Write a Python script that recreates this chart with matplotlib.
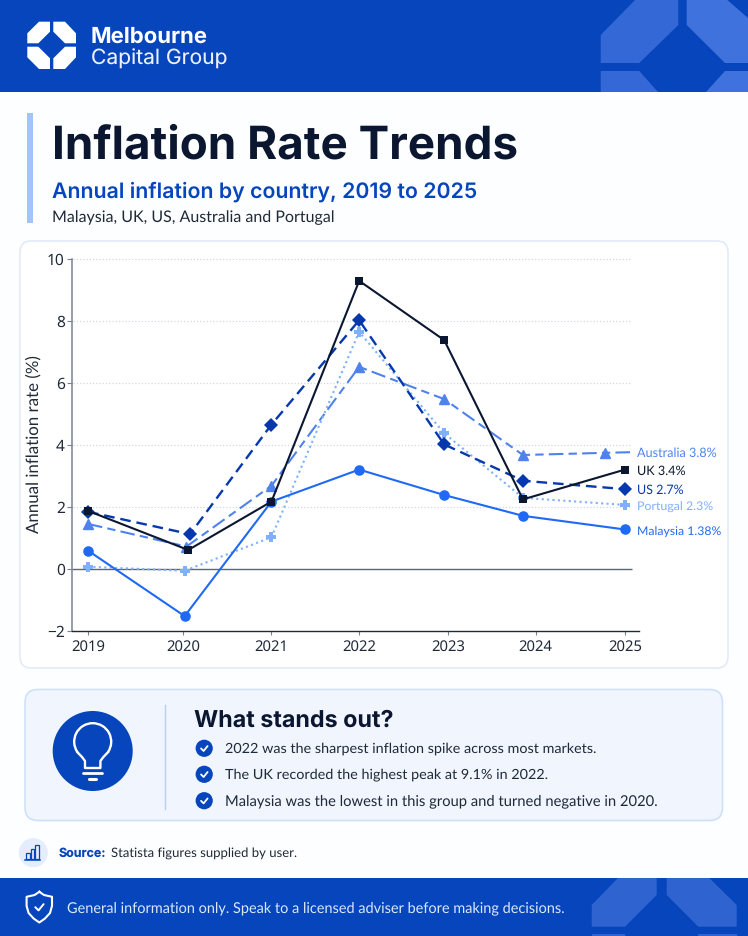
import matplotlib
matplotlib.use("Agg")
import matplotlib.pyplot as plt
from matplotlib.patches import FancyBboxPatch, Polygon, Circle, Rectangle, Arc

plt.rcParams['text.hinting'] = 'no_hinting'
plt.rcParams['text.hinting_factor'] = 8

# ---------- data ----------
tick_labels = ['2019', '2020', '2021', '2022', '2023', '2024', '2025']
tick_positions = [2019.0, 2020.06, 2021.05, 2022.03, 2023.02, 2024.0, 2025.0]
y_ticks = [-2, 0, 2, 4, 6, 8, 10]

uk_x = [2019.0, 2020.12, 2021.05, 2022.03, 2022.98, 2023.86, 2025.0]
uk_y = [1.87, 0.61, 2.17, 9.28, 7.37, 2.24, 3.20]
us_x = [2019.0, 2020.14, 2021.05, 2022.03, 2022.98, 2023.86, 2025.0]
us_y = [1.84, 1.12, 4.65, 8.01, 4.01, 2.84, 2.57]
au_x = [2019.0, 2020.10, 2021.05, 2022.03, 2022.98, 2023.86, 2024.78, 2025.06]
au_y = [1.45, 0.72, 2.68, 6.51, 5.47, 3.67, 3.74, 3.76]
pt_x = [2019.0, 2020.08, 2021.05, 2022.03, 2022.98, 2023.86, 2025.0]
pt_y = [0.07, -0.06, 1.02, 7.64, 4.37, 2.29, 2.06]
my_x = [2019.0, 2020.08, 2021.05, 2022.03, 2022.98, 2023.86, 2025.0]
my_y = [0.59, -1.52, 2.17, 3.20, 2.38, 1.71, 1.27]

series_labels = ['Australia 3.8%', 'UK 3.4%', 'US 2.7%', 'Portugal 2.3%', 'Malaysia 1.38%']
bullets = ['2022 was the sharpest inflation spike across most markets.',
           'The UK recorded the highest peak at 9.1% in 2022.',
           'Malaysia was the lowest in this group and turned negative in 2020.']

# ---------- colours ----------
BLUE = '#0645BC'
NAVY = '#0B1730'
C_UK, C_US, C_AU, C_PT, C_MY = '#0B1730', '#0638AD', '#4F82EE', '#7FB0FB', '#1F69F5'
SANS = ['Noto Sans', 'DejaVu Sans']
BODY = ['Lato', 'Noto Sans', 'DejaVu Sans']
HEAD = ['Inter', 'Noto Sans', 'DejaVu Sans']

W, H = 748, 936
fig = plt.figure(figsize=(W / 100, H / 100), dpi=100, facecolor='#FDFEFF')
bg = fig.add_axes([0, 0, 1, 1], zorder=0)
bg.set_xlim(0, W); bg.set_ylim(H, 0); bg.axis('off')
renderer = fig.canvas.get_renderer()


def poly(pts, color, z=2):
    bg.add_patch(Polygon(pts, closed=True, fc=color, ec='none', zorder=z))


def txt(x, y, s, size, color, width=None, weight='normal', family=BODY, ax=bg, z=6):
    """Text with its baseline at y; when width is given the size is tuned to that pixel width."""
    t = ax.text(x, y, s, fontsize=size, color=color, fontweight=weight, family=family,
                ha='left', va='baseline', zorder=z)
    if width is not None:
        for _ in range(3):
            t.set_fontsize(t.get_fontsize() * width / t.get_window_extent(renderer).width)
    return t


def check(cx, cy, s, color='white', lw=1.5):
    bg.plot([cx - .42 * s, cx - .08 * s, cx + .45 * s], [cy + .02 * s, cy + .36 * s, cy - .3 * s],
            color=color, lw=lw, solid_capstyle='round', solid_joinstyle='round', zorder=7)


# ---------- header ----------
bg.add_patch(Rectangle((0, 0), W, 92, fc=BLUE, ec='none', zorder=1))
poly([(635, 0), (678.3, 0), (678.3, 25), (639.3, 63), (600.7, 63), (600.7, 35)], '#3468D6')
poly([(686.7, 0), (727.3, 0), (748, 18), (748, 63), (725, 63), (686.7, 25)], '#3F72DC')
poly([(600.7, 71), (639.3, 71), (658, 92), (600.7, 92)], '#3468D6')
poly([(725, 71), (748, 71), (748, 92), (706, 92)], '#3F72DC')
for pts in ([(39, 21.7), (50, 21.7), (50, 31.7), (38.3, 43.3), (27.3, 43.3), (27.3, 33.3)],
            [(53.3, 21.7), (65, 21.7), (76, 33.3), (76, 43.3), (65, 43.3), (53.3, 31.7)],
            [(27.3, 46.7), (38.3, 46.7), (50, 58.3), (50, 69), (39, 69), (27.3, 57.3)],
            [(65, 46.7), (76, 46.7), (76, 57.3), (65, 69), (53.3, 69), (53.3, 58.3)]):
    poly(pts, 'white', 3)
txt(91, 43, 'Melbourne', 15, 'white', width=117, weight='bold', family=HEAD)
txt(91.5, 65, 'Capital Group', 15, '#EAF1FF', width=136.5, family=HEAD)

# ---------- title block ----------
bg.add_patch(Rectangle((26.7, 113), 6.3, 110, fc='#A3C4FB', ec='none', zorder=2))
txt(52, 158.5, 'Inflation Rate Trends', 32, NAVY, width=466, weight='bold', family=HEAD)
txt(52, 198, 'Annual inflation by country, 2019 to 2025', 15, BLUE, width=425, weight='semibold', family=HEAD)
txt(52, 222.5, 'Malaysia, UK, US, Australia and Portugal', 10.5, '#1F2937', width=284)

# ---------- chart card ----------
bg.add_patch(FancyBboxPatch((20, 241), 708, 427, boxstyle='round,pad=0,rounding_size=11',
                            fc='#FFFFFF', ec='#E3EBF8', lw=1.2, zorder=2))

AX_L, AX_R, AX_T, AX_B = 71.7, 639.0, 258.5, 631.0
PX_YEAR = 89.5
ax = fig.add_axes([AX_L / W, 1 - AX_B / H, (AX_R - AX_L) / W, (AX_B - AX_T) / H], zorder=3)
ax.patch.set_alpha(0)
x0 = 2019 - (88 - AX_L) / PX_YEAR
x1 = 2019 + (AX_R - 88) / PX_YEAR
line_end = 2019 + (632 - 88) / PX_YEAR
ax.set_xlim(x0, x1); ax.set_ylim(-2, 10)
ax.hlines([2, 4, 6, 8, 10], x0 + 0.02, line_end, color='#D3D8E0', lw=0.9, linestyles=(0, (1, 1.6)), zorder=1, clip_on=False)
ax.hlines([0], x0, line_end, color='#5D6675', lw=1.0, zorder=1)

ax.plot(au_x, au_y, color=C_AU, lw=1.5, ls=(0, (7, 2.5, 4, 2.5)), marker='^', ms=7.4, markevery=list(range(7)), zorder=3)
ax.plot(pt_x, pt_y, color=C_PT, lw=1.5, ls=(0, (1, 1.6)), marker='P', ms=7.5, mew=0, zorder=4)
ax.plot(my_x, my_y, color=C_MY, lw=1.5, marker='o', ms=7.6, mew=0, zorder=4)
ax.plot(us_x, us_y, color=C_US, lw=1.7, ls=(0, (4.5, 2.5)), marker='D', ms=6.8, mew=0, zorder=5)
ax.plot(uk_x, uk_y, color=C_UK, lw=1.5, marker='s', ms=6.2, mew=0, zorder=6)

for sp in ('top', 'right'):
    ax.spines[sp].set_visible(False)
ax.spines['left'].set_color('#7A8291'); ax.spines['left'].set_linewidth(1.1)
ax.spines['bottom'].set_color('#1F2937'); ax.spines['bottom'].set_linewidth(1.0)
ax.set_xticks(tick_positions); ax.set_xticklabels(tick_labels)
ax.set_yticks(y_ticks)
ax.tick_params(axis='x', length=3, width=0.8, color='#7A8291', labelsize=10.7, labelcolor='#1F2937', pad=3)
ax.tick_params(axis='y', length=3.5, width=0.8, color='#7A8291', labelsize=11.2, labelcolor='#1F2937', pad=1.5)
for lab in ax.get_xticklabels() + ax.get_yticklabels():
    lab.set_family(SANS)
bg.text(33.3, 444.5, 'Annual inflation rate (%)', fontsize=12.2, color='#1F2937', family=BODY,
        rotation=90, ha='center', va='center', zorder=6)

label_pos = [(637.3, 457.3, 80, C_AU), (637.3, 475, 48.5, C_UK), (637.3, 494, 46.5, '#0638AD'),
             (637.3, 511, 76.5, C_PT), (637.3, 534.5, 85, C_MY)]
for s, (lx, ly, lw_, c) in zip(series_labels, label_pos):
    txt(lx, ly, s, 9, c, width=lw_, z=8)

# ---------- insight box ----------
bg.add_patch(FancyBboxPatch((25, 689.5), 697.5, 131, boxstyle='round,pad=0,rounding_size=13',
                            fc='#F0F5FE', ec='#CFE0FA', lw=1.2, zorder=2))
bg.plot([164.7, 164.7], [705, 809], color='#B8CFF5', lw=1.0, zorder=3)
bg.add_patch(Circle((92.7, 751), 40, fc=BLUE, ec='none', zorder=3))
# light bulb
bg.add_patch(Arc((92.7, 741.7), 37, 37, theta1=145, theta2=395, ec='white', lw=1.7, zorder=4))
bg.plot([77.5, 82, 85, 85, 100.4, 100.4, 103.4, 107.9],
        [752.3, 757, 761, 768, 768, 761, 757, 752.3], color='white', lw=1.7, solid_joinstyle='round', zorder=4)
bg.plot([83.3, 102.3], [772.5, 772.5], color='white', lw=2.0, solid_capstyle='round', zorder=4)
bg.plot([89.3, 96.3], [779, 779], color='white', lw=2.2, solid_capstyle='round', zorder=4)

txt(194, 727, 'What stands out?', 17, NAVY, width=199.5, weight='bold', family=HEAD)
for yc, s, wd in zip([748.3, 774.3, 800.7], bullets, [373.6, 323.5, 430.8]):
    bg.add_patch(Circle((204.2, yc), 8.6, fc=BLUE, ec='none', zorder=4))
    check(204.2, yc, 7.5, lw=1.3)
    txt(225.2, yc + 4.6, s, 10.3, '#1F2937', width=wd)

# ---------- source ----------
bg.add_patch(Circle((33.3, 852.7), 14.5, fc='#E3EDFC', ec='none', zorder=3))
for bx, bh in zip([26.5, 31, 35.5], [6, 10, 14]):
    bg.add_patch(Rectangle((bx, 859 - bh), 3.2, bh, fc='none', ec=BLUE, lw=0.9, zorder=4))
bg.plot([25.5, 40.5], [859.5, 859.5], color=BLUE, lw=1.1, zorder=4)
txt(58.5, 857, 'Source:', 10, BLUE, width=47.5, weight='bold', family=HEAD)
txt(111, 857, 'Statista figures supplied by user.', 9.3, '#1F2937', width=186)

# ---------- footer ----------
bg.add_patch(Rectangle((0, 878), W, 58, fc=BLUE, ec='none', zorder=1))
for pts in ([(618, 878), (656.7, 878), (656.7, 895), (625, 926.7), (591.7, 926.7), (591.7, 905)],
            [(666.7, 878), (709.3, 878), (736.7, 905), (736.7, 926.7), (698.3, 926.7), (666.7, 895)],
            [(591.7, 934), (625, 934), (625, 936), (591.7, 936)],
            [(698.3, 934), (736.7, 934), (736.7, 936), (698.3, 936)]):
    poly(pts, '#2F63CF')
shield = [(39.3, 891.8), (44, 895), (52, 896.8), (52, 906), (50, 913), (45, 918.5), (39.3, 922.5),
          (33.6, 918.5), (28.6, 913), (26.6, 906), (26.6, 896.8), (34.6, 895), (39.3, 891.8)]
bg.plot(*zip(*shield), color='white', lw=1.5, solid_joinstyle='round', zorder=4)
check(39.3, 907, 9.5, lw=1.4)
txt(66.7, 912.5, 'General information only. Speak to a licensed adviser before making decisions.', 10,
    '#DCE7FC', width=497.5)

fig.savefig('out.png', dpi=100, facecolor=fig.get_facecolor())
